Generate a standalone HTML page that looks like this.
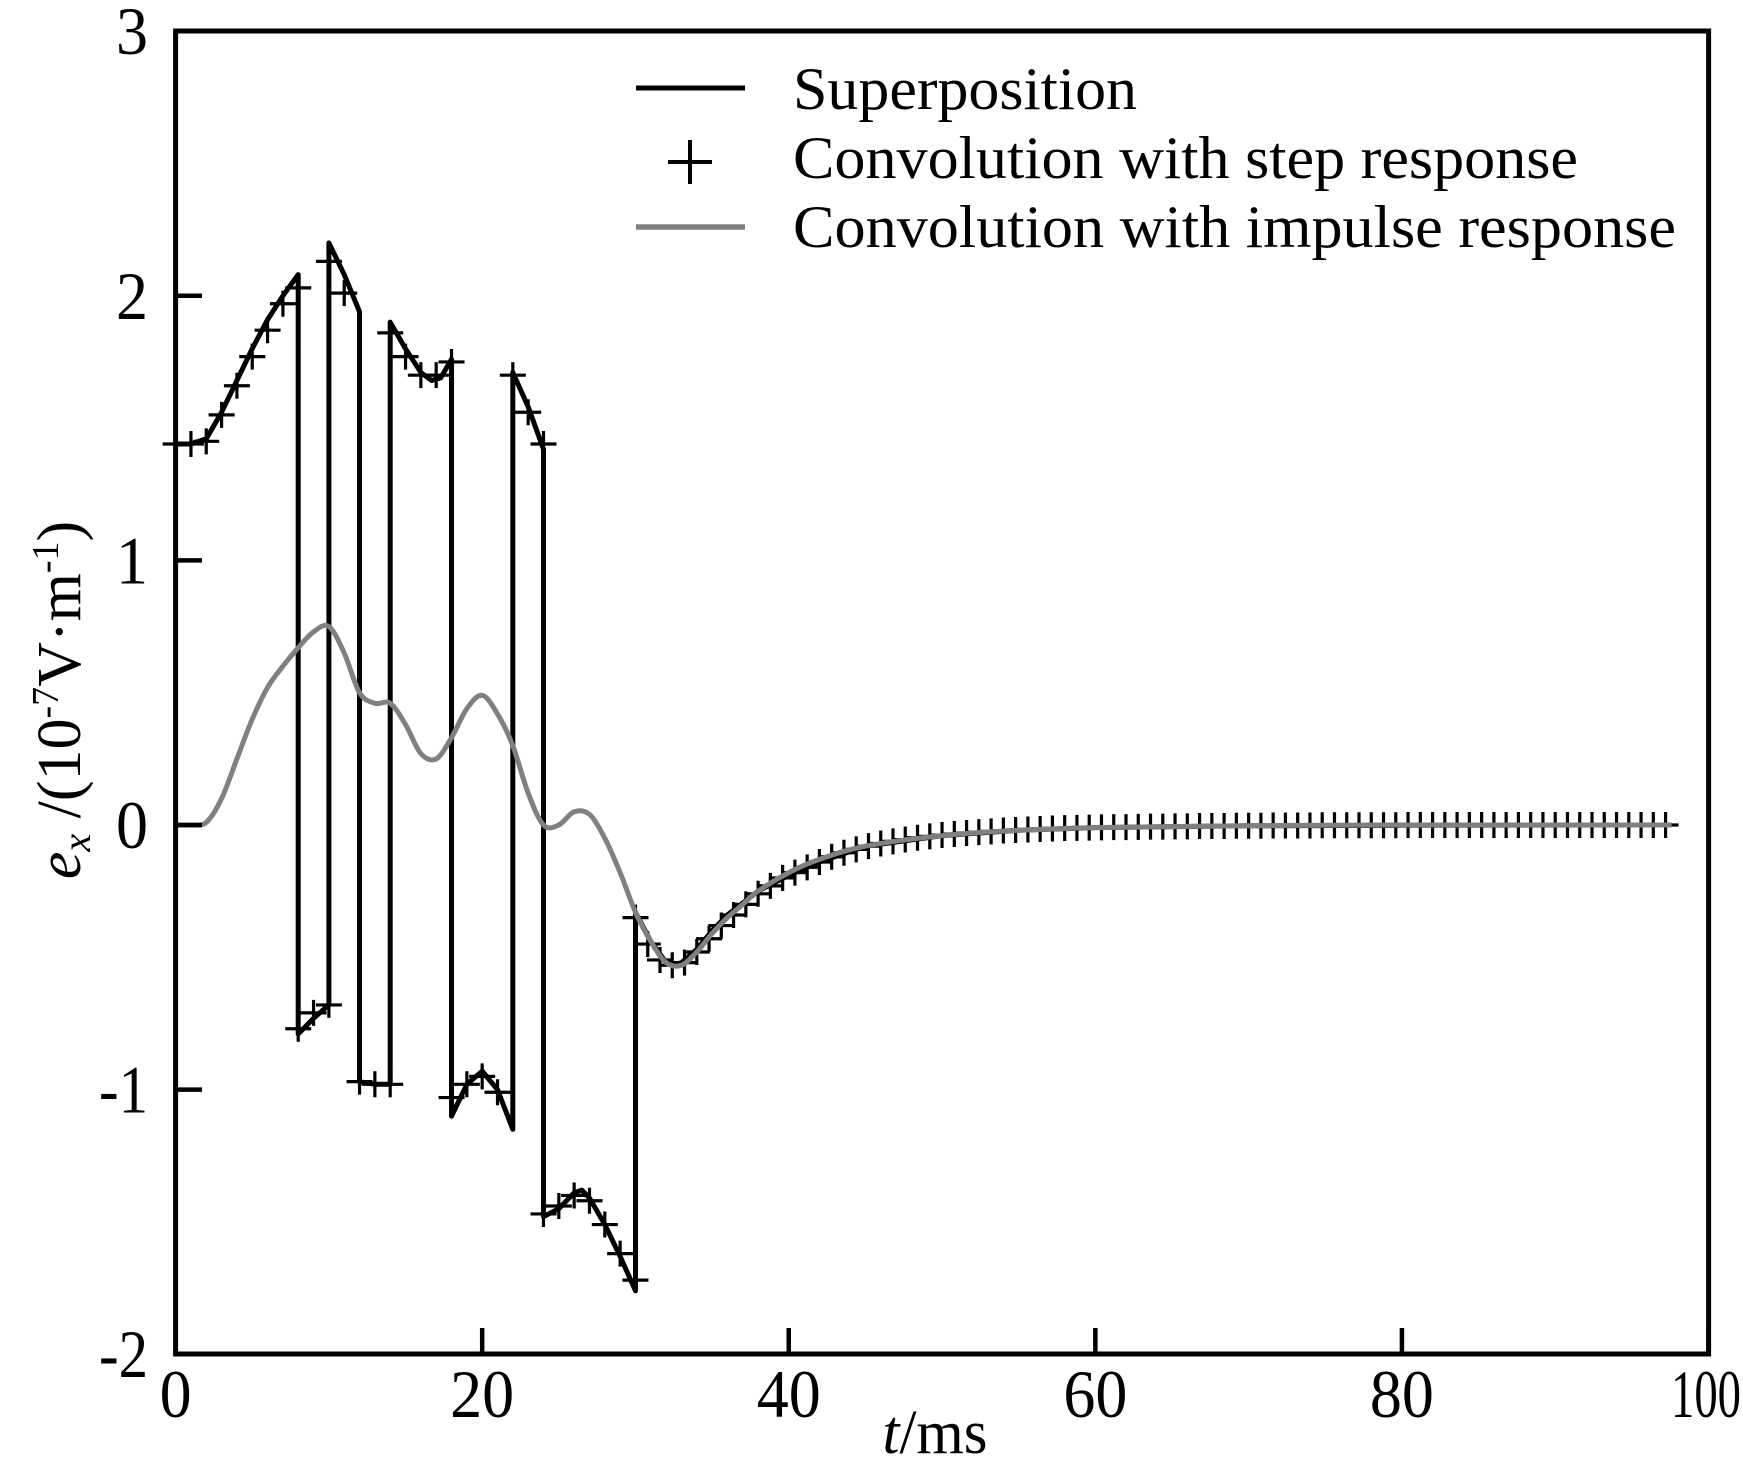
<!DOCTYPE html>
<html><head><meta charset="utf-8"><style>
html,body{margin:0;padding:0;background:#fff;overflow:hidden;}
svg{display:block;}
text{font-family:"Liberation Serif",serif;fill:#000;}
</style></head><body>
<svg id="chart" width="1743" height="1474" viewBox="0 0 1743 1474" xmlns="http://www.w3.org/2000/svg">
<rect x="0" y="0" width="1743" height="1474" fill="#fff"/>
<g id="marks"></g>
<rect x="175.6" y="31" width="1533" height="1323" fill="none" stroke="#000" stroke-width="5"/>
<g id="axes"></g>
<text x="935" y="1453" font-size="62" text-anchor="middle" textLength="105" lengthAdjust="spacingAndGlyphs"><tspan font-style="italic">t</tspan>/ms</text>
<text transform="translate(80,700) rotate(-90)" font-size="62" text-anchor="middle"><tspan font-style="italic">e</tspan><tspan font-style="italic" font-size="40" dy="10">x</tspan><tspan dy="-10"> /(10</tspan><tspan font-size="38" dy="-22">-7</tspan><tspan dy="22">V·m</tspan><tspan font-size="38" dy="-22">-1</tspan><tspan dy="22">)</tspan></text>
<g>
  <line x1="636" y1="88" x2="745" y2="88" stroke="#000" stroke-width="5"/>
  <text x="793" y="109" font-size="60" textLength="344" lengthAdjust="spacingAndGlyphs">Superposition</text>
  <g stroke="#000" stroke-width="4">
    <line x1="668" y1="162" x2="712" y2="162"/><line x1="690" y1="140" x2="690" y2="184"/>
  </g>
  <text x="793" y="178" font-size="60" textLength="785" lengthAdjust="spacingAndGlyphs">Convolution with step response</text>
  <line x1="636" y1="227" x2="745" y2="227" stroke="#808080" stroke-width="5.5"/>
  <text x="793" y="247" font-size="60" textLength="883" lengthAdjust="spacingAndGlyphs">Convolution with impulse response</text>
</g>
</svg>
<script>
const xTicks = [0, 20, 40, 60, 80, 100];
const yTicks = [3, 2, 1, 0, -1, -2];
const yTickLabels = ['3', '2', '1', '0', '-1', '-2'];

const superT = [0,1,2,3,4,5,6,7,8, 8,9,10, 10,11,12, 12,13,14, 14,15,16,16.7,17.3,18, 18,19,20,21,22, 22,23,24, 24,25,26,26.5,27,28,29,30, 30,31,32,32.5,33,34,35,36,38,40,42,45,50,55,60,70,80,97.5];
const superV = [1.44,1.44,1.46,1.56,1.68,1.80,1.91,2.0,2.08, -0.79,-0.73,-0.68, 2.2,2.08,1.94, -0.97,-0.98,-0.98, 1.9,1.8,1.71,1.68,1.69,1.76, -1.1,-0.98,-0.93,-1.0,-1.15, 1.71,1.58,1.42, -1.48,-1.45,-1.39,-1.38,-1.41,-1.51,-1.63,-1.76, -0.33,-0.44,-0.52,-0.53,-0.52,-0.47,-0.40,-0.34,-0.25,-0.19,-0.14,-0.08,-0.04,-0.02,-0.01,-0.003,-0.001,0];

const crossT = [0,1,2,3,4,5,6,7,8, 8,9,10, 10,11, 12,13,14, 14,15,16,17,18, 18,19,20,21, 22,23,24, 24,25,26,27,28,29,30,
  30,30.8,31.6,32.4,33.2,34,34.8,35.6,36.4,37.2,38,38.8,39.6,40.4,41.2,42,42.8,43.6,44.4,45.2,46,46.8,47.6,48.4,49.2,50,50.8,51.6,52.4,53.2,54,54.8,55.6,56.4,57.2,58,58.8,59.6,60.4,61.2,62,62.8,63.6,64.4,65.2,66,66.8,67.6,68.4,69.2,70,70.8,71.6,72.4,73.2,74,74.8,75.6,76.4,77.2,78,78.8,79.6,80.4,81.2,82,82.8,83.6,84.4,85.2,86,86.8,87.6,88.4,89.2,90,90.8,91.6,92.4,93.2,94,94.8,95.6,96.4,97.2];
const crossV = [1.44,1.44,1.45,1.55,1.66,1.77,1.87,1.97,2.03, -0.77,-0.71,-0.68, 2.13,2.01, -0.97,-0.98,-0.98, 1.86,1.77,1.70,1.70,1.75, -1.03,-0.98,-0.95,-1.01, 1.70,1.56,1.44, -1.47,-1.44,-1.40,-1.42,-1.51,-1.62,-1.72,
  -0.35,-0.45,-0.51,-0.53,-0.52,-0.48,-0.43,-0.38,-0.34,-0.30,-0.26,-0.23,-0.20,-0.18,-0.16,-0.14,-0.12,-0.105,-0.092,-0.08,-0.07,-0.062,-0.055,-0.048,-0.043,-0.038,-0.034,-0.03,-0.027,-0.024,-0.021,-0.019,-0.017,-0.015,-0.013,-0.012,-0.011,-0.01,-0.009,-0.008,-0.008,-0.007,-0.006,-0.006,-0.005,-0.005,-0.004,-0.004,-0.004,-0.003,-0.003,-0.003,-0.002,-0.002,-0.002,-0.002,-0.001,-0.001,-0.001,-0.001,-0.001,-0.001,-0.001,0,0,0,0,0,0,0,0,0,0,0,0,0,0,0,0,0,0,0,0,0,0,0];

const impT = [0,1,2,3,4,5,6,7,8,9,10,11,12,13,14,15,16,17,18,19,20,21,22,23,24,25,26,27,28,29,30,31,32,33,34,35,36,37,38,40,42,45,50,55,60,70,80,97.6];
const impV = [0,0,0.01,0.1,0.25,0.4,0.52,0.6,0.67,0.73,0.75,0.65,0.5,0.46,0.46,0.38,0.27,0.25,0.33,0.44,0.49,0.42,0.3,0.12,0.0,0.0,0.05,0.04,-0.05,-0.18,-0.33,-0.44,-0.52,-0.53,-0.48,-0.41,-0.35,-0.3,-0.25,-0.18,-0.13,-0.08,-0.04,-0.02,-0.01,-0.003,0,0];

const NS = 'http://www.w3.org/2000/svg';
const X = t => 175.6 + t * 15.329;
const Y = v => 825 - v * 264.6;
const marks = document.getElementById('marks');
const axes = document.getElementById('axes');
function mk(tag, parent) { const e = document.createElementNS(NS, tag); parent.appendChild(e); return e; }
function labelWidth(s) { let w = 0; for (const c of s) w += (c === '-' ? 17 : 32); return w; }

xTicks.forEach((t, i) => {
  const l = mk('line', axes);
  
  
  l.setAttribute('x1', X(t)); l.setAttribute('x2', X(t));
  l.setAttribute('y1', 1354); l.setAttribute('y2', 1328);
  l.setAttribute('stroke', '#000'); l.setAttribute('stroke-width', 4.5);
  const tx = mk('text', axes);
  
  
  const s = String(t);
  const last = i === xTicks.length - 1;
  const w = last ? 70 : labelWidth(s);
  tx.setAttribute('x', last ? 1671 : X(t) - w / 2);
  tx.setAttribute('y', 1417);
  tx.setAttribute('font-size', 68);
  tx.setAttribute('textLength', w);
  tx.setAttribute('lengthAdjust', 'spacingAndGlyphs');
  tx.textContent = s;
});
yTicks.forEach((v, i) => {
  const l = mk('line', axes);
  
  
  l.setAttribute('x1', 175.6); l.setAttribute('x2', 202);
  l.setAttribute('y1', Y(v)); l.setAttribute('y2', Y(v));
  l.setAttribute('stroke', '#000'); l.setAttribute('stroke-width', 4.5);
  const tx = mk('text', axes);
  
  
  const s = yTickLabels[i];
  const w = labelWidth(s);
  tx.setAttribute('x', 148 - w);
  tx.setAttribute('y', Y(v) + 23);
  tx.setAttribute('font-size', 68);
  tx.setAttribute('textLength', w);
  tx.setAttribute('lengthAdjust', 'spacingAndGlyphs');
  tx.textContent = s;
});

const sp = mk('path', marks);


sp.setAttribute('d', superT.map((t, i) => (i ? 'L' : 'M') + X(t).toFixed(1) + ' ' + Y(superV[i]).toFixed(1)).join(' '));
sp.setAttribute('fill', 'none'); sp.setAttribute('stroke', '#000'); sp.setAttribute('stroke-width', 5);
sp.setAttribute('stroke-linejoin', 'round');

const cg = mk('g', marks);


crossT.forEach((t, i) => {
  const x = X(t), y = Y(crossV[i]);
  const p = mk('path', cg);
  
  
  p.setAttribute('d', `M${x - 13} ${y}H${x + 13}M${x} ${y - 13}V${y + 13}`);
  p.setAttribute('stroke', '#000'); p.setAttribute('stroke-width', 3.2);
});

function smooth(xs, ys) {
  let d = `M${xs[0]} ${ys[0]}`;
  for (let i = 0; i < xs.length - 1; i++) {
    const x0 = xs[Math.max(0, i - 1)], y0 = ys[Math.max(0, i - 1)];
    const x1 = xs[i], y1 = ys[i], x2 = xs[i + 1], y2 = ys[i + 1];
    const x3 = xs[Math.min(xs.length - 1, i + 2)], y3 = ys[Math.min(xs.length - 1, i + 2)];
    const c1x = x1 + (x2 - x0) / 6, c1y = y1 + (y2 - y0) / 6;
    const c2x = x2 - (x3 - x1) / 6, c2y = y2 - (y3 - y1) / 6;
    d += ` C${c1x.toFixed(1)} ${c1y.toFixed(1)} ${c2x.toFixed(1)} ${c2y.toFixed(1)} ${x2.toFixed(1)} ${y2.toFixed(1)}`;
  }
  return d;
}
const ip = mk('path', marks);


ip.setAttribute('d', smooth(impT.map(X), impV.map(Y)));
ip.setAttribute('fill', 'none'); ip.setAttribute('stroke', '#808080'); ip.setAttribute('stroke-width', 5);
</script>
</body></html>
